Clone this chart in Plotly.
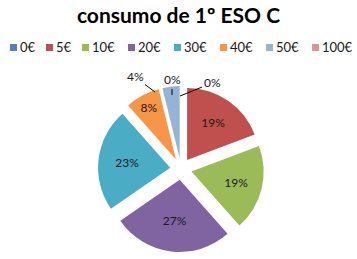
import plotly.graph_objects as go

categories = ["0€", "5€", "10€", "20€", "30€", "40€", "50€", "100€"]
values = [0, 5, 5, 7, 6, 2, 1, 0]
colors = ["#4F81BD", "#C0504D", "#9BBB59", "#8064A2", "#4BACC6", "#F79646", "#95B3D7", "#D99694"]
title_text = "consumo de 1º ESO C"

total = sum(values)
pcts = [round(v / total * 100) for v in values]
outside = {"50€", "100€", "0€"}
texts = ["" if c in outside else f"{p}%" for c, p in zip(categories, pcts)]

W, H = 357, 259
fig = go.Figure()
fig.add_trace(go.Pie(
    labels=categories, values=values, sort=False, direction="clockwise", rotation=0,
    marker=dict(colors=colors, line=dict(width=0)),
    text=texts, textinfo="text", textposition="inside", insidetextorientation="horizontal",
    textfont=dict(family="Lato", size=12, color="#1a1a1a"),
    pull=[0.15] * len(values),
    domain=dict(x=[97 / W, 265 / W], y=[1 - 252 / H, 1 - 86 / H]),
    showlegend=False, hoverinfo="label+percent",
))

# outside labels with leader lines (label px, point px)
lbl = dict(zip(categories, pcts))
outs = [("50€", 135, 77, 155, 92), ("0€", 212, 83, 180, 96), ("100€", 172, 80, 172, 95)]
for cat, tx, ty, px, py in outs:
    fig.add_annotation(x=px / W, y=1 - py / H, xref="paper", yref="paper",
                       ax=tx - px, ay=ty - py,
                       text=f"{lbl[cat]}%", showarrow=True, arrowhead=0, arrowwidth=1,
                       arrowcolor="#000", standoff=0,
                       font=dict(family="Lato", size=12, color="#1a1a1a"))

# legend row
x = 10
for cat, col in zip(categories, colors):
    fig.add_shape(type="rect", xref="paper", yref="paper",
                  x0=x / W, x1=(x + 7) / W, y0=1 - 51 / H, y1=1 - 44 / H,
                  fillcolor=col, line=dict(width=0))
    fig.add_annotation(x=(x + 8) / W, y=1 - 47.5 / H, xref="paper", yref="paper",
                       text=cat, showarrow=False, xanchor="left", yanchor="middle",
                       font=dict(family="Lato", size=13, color="#1a1a1a"))
    x += 10 * len(cat) + 16

fig.update_layout(
    width=W, height=H, margin=dict(l=0, r=0, t=0, b=0),
    paper_bgcolor="white", plot_bgcolor="white",
    title=dict(text=f"<b>{title_text}</b>", x=0.5, xanchor="center", y=1 - 16 / H, yanchor="middle",
               font=dict(family="Lato", size=21, color="#000")),
)
fig.write_html("out.html")
